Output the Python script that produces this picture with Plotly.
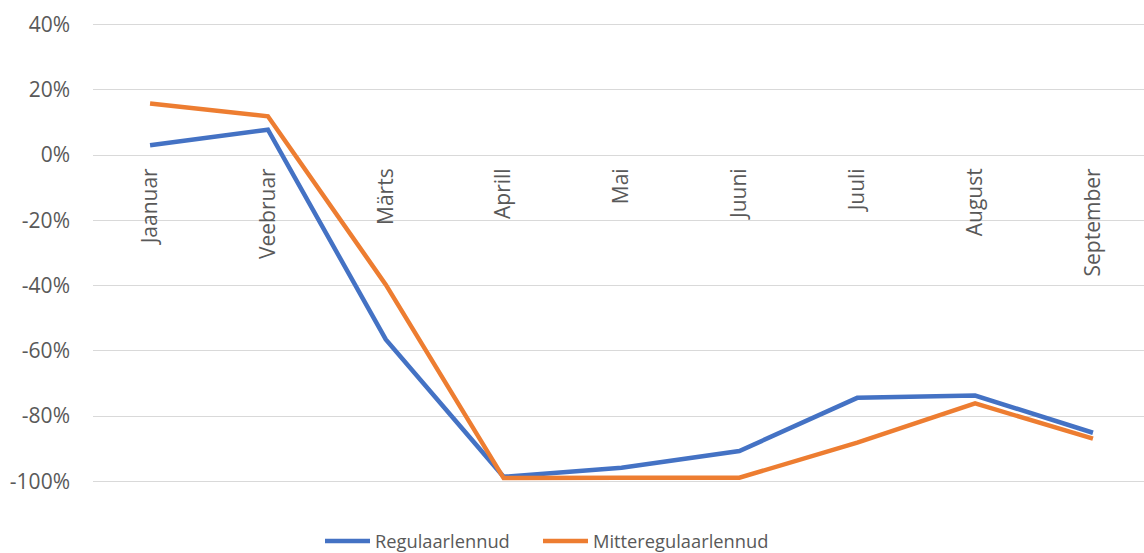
import plotly.graph_objects as go

months = ["Jaanuar", "Veebruar", "Märts", "Aprill", "Mai", "Juuni", "Juuli", "August", "September"]
regulaar = [3.0, 7.8, -56.5, -98.6, -95.8, -90.7, -74.4, -73.7, -85.1]
mitteregulaar = [15.8, 11.9, -39.7, -99.0, -98.9, -98.9, -88.1, -76.1, -86.9]
y_ticks = [40, 20, 0, -20, -40, -60, -80, -100]
y_tick_text = [f"{v}%" for v in y_ticks]

FONT = "Open Sans"
TXT = "#595959"
idx = list(range(len(months)))

fig = go.Figure()
fig.add_trace(go.Scatter(x=idx, y=regulaar, mode="lines", name="Regulaarlennud",
                         line=dict(color="#4472C4", width=4.5), legend="legend"))
fig.add_trace(go.Scatter(x=idx, y=mitteregulaar, mode="lines", name="Mitteregulaarlennud",
                         line=dict(color="#ED7D31", width=4.5), legend="legend2"))

legend_common = dict(orientation="h", xref="container", yref="container",
                     xanchor="left", y=1 - 541 / 553, yanchor="middle",
                     font=dict(size=18.3, color=TXT, family=FONT), itemwidth=45,
                     bgcolor="rgba(0,0,0,0)")

ymin, ymax = -100.5, 40.5
fig.update_layout(
    width=1144, height=553,
    margin=dict(l=93, r=0, t=23, b=70, autoexpand=False),
    plot_bgcolor="white", paper_bgcolor="white",
    font=dict(family=FONT, color=TXT),
    showlegend=True,
    legend=dict(x=320 / 1144, **legend_common),
    legend2=dict(x=538 / 1144, **legend_common),
    xaxis=dict(range=[-0.484, 8.433], tickmode="array", tickvals=idx, ticktext=months,
               tickangle=-90, showgrid=False, zeroline=False, showline=False,
               anchor="free", position=(0 - ymin) / (ymax - ymin),
               ticks="", ticklabelstandoff=8, automargin=False,
               tickfont=dict(size=21, color=TXT, family=FONT)),
    yaxis=dict(range=[ymin, ymax], tickmode="array", tickvals=y_ticks, ticktext=y_tick_text,
               showgrid=True, gridcolor="#D9D9D9", gridwidth=1.3, zeroline=False,
               showline=False, ticks="", ticklabelstandoff=22, automargin=False,
               tickfont=dict(size=21, color=TXT, family=FONT)),
)

fig.write_html("out.html", config={"displayModeBar": False},
               post_script="document.body.style.margin='0';document.body.style.overflow='hidden';")
